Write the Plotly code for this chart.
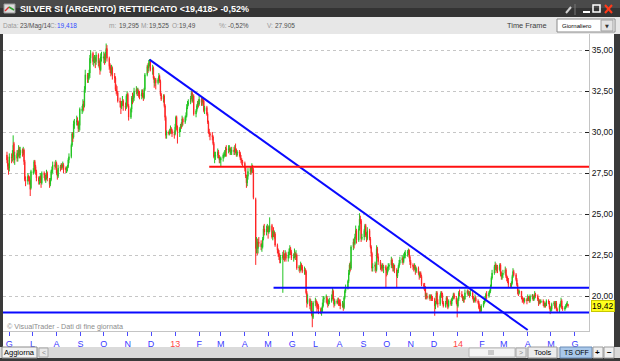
import pandas as pd
import plotly.graph_objects as go

# ---------------- data (daily OHLC) ----------------
first_day = "2012-05-29"
opens = [
    28.6, 28.3, 27.9, 27.8,
    28.5, 28.4, 28.6, 29.3, 28.3,  28.7, 28.4, 28.7, 29.0, 28.6,  28.9, 28.7, 28.9, 28.2, 27.1,  27.0, 27.3, 27.2, 27.0, 26.6,
    27.5, 27.6, 28.2, 27.9, 27.6,  27.2, 27.0, 27.1, 27.3, 26.9,  27.5, 27.4, 27.1, 27.2, 27.5,  27.1, 26.8, 27.1, 27.6, 27.7,
    28.0, 27.9, 28.1, 27.5, 27.3,  27.9, 27.8, 28.0, 27.9, 28.0,  27.8, 27.7, 27.8, 27.9, 28.3,  28.5, 29.2, 29.9, 29.7, 30.5,
    30.6, 30.7, 30.6, 30.2, 30.4,  31.3, 31.4, 31.7, 31.6, 32.6,  33.5, 33.2, 33.4, 33.6, 34.5,  34.8, 34.3, 34.4, 34.5, 34.3,
    34.7, 34.2, 34.3, 33.8, 34.5,  34.5, 34.6, 34.4, 34.7, 35.1,  34.5, 34.0, 33.9, 33.6, 33.9,  33.4, 33.3, 32.6, 32.5, 32.4,
    31.9, 31.8, 31.5, 31.8, 31.9,  31.6, 31.5, 32.2, 32.3, 31.6,  30.9, 31.4, 32.1, 32.0, 32.1,  32.5, 32.6, 32.4, 32.5, 32.3,
    32.2, 32.4, 32.3, 32.1, 32.6,  33.5, 34.0, 33.9, 34.2, 34.3,  33.8, 33.9, 33.3, 33.0, 33.2,  33.0, 33.2, 33.4, 33.1, 32.3,
    32.0, 32.2, 31.6, 30.9, 29.8,  30.0, 29.9, 30.0, 30.2, 30.1,  29.9, 29.9, 30.3, 30.9, 30.3,
    30.0, 30.2, 30.4, 30.4, 30.8,  30.6, 30.9, 31.0, 31.5, 31.7,  31.8, 32.1, 32.4, 31.9, 32.2,  31.1, 31.3, 31.6, 31.8, 31.7,
    32.0, 31.8, 32.0, 31.9, 31.3,  31.5, 31.1, 30.6, 30.0, 29.9,  29.8, 29.7, 29.3, 28.5, 28.5,  28.6, 28.8, 28.5, 28.3, 28.3,
    28.4, 28.5, 28.6, 28.7, 29.0,  28.9, 28.9, 29.0, 28.7, 28.8,  28.9, 28.8, 29.0, 28.9, 28.6,  28.8, 28.7, 28.4, 28.3, 28.2,
    28.1, 27.8, 27.3, 26.9, 27.3,  27.6, 27.8, 27.6, 27.9, 27.7,  25.9, 23.0, 23.3, 22.9, 23.3,  23.2, 23.0, 23.0, 23.5, 24.1,
    23.9, 24.1, 24.2, 23.9, 24.0,  24.3, 23.6, 23.9, 23.8, 23.8,  23.1, 22.8, 22.6, 22.4, 22.2,  22.3, 22.5, 22.4, 22.4, 22.6,
    22.3, 22.5, 22.7, 22.9, 22.7,  22.3, 22.4, 22.6, 22.4, 22.5,  21.7, 21.7, 21.6, 21.9, 21.8,  21.5, 21.6, 21.5, 20.2, 19.6,
    19.8, 19.4, 19.6, 18.9, 18.7,  19.6, 19.7, 19.6, 19.5, 19.4,  19.2, 19.0, 19.1, 19.4, 19.8,  19.9, 19.9, 19.6, 19.5, 19.6,
    19.7, 19.9, 20.3, 19.8, 19.5,  19.7, 19.6, 19.7, 19.6, 19.6,  19.4, 19.5, 19.3, 19.9, 20.3,  20.5, 20.9, 21.4, 21.9, 21.7,
    23.0, 23.3, 23.2, 23.6, 24.0,  23.4, 24.1, 24.7, 24.6, 23.5,  23.6, 24.0, 24.3, 23.7, 23.5,  24.0, 23.5, 23.0, 22.6, 21.7,
    21.8, 21.9, 21.6, 22.9, 22.4,  22.1, 21.8, 21.7, 21.9, 21.7,  21.8, 21.6, 21.4, 21.7, 21.8,  21.9, 22.2, 21.9, 21.7, 21.9,
    21.6, 21.2, 21.5, 21.8, 22.0,  22.2, 22.3, 22.1, 22.4, 22.5,  22.6, 22.7, 22.8, 22.4, 22.1,  21.9, 21.8, 21.7, 21.8, 21.5,
    21.7, 21.4, 21.2, 21.4, 21.2,  20.7, 20.6, 20.5, 20.0, 20.0,  19.9, 20.0, 19.9, 20.0, 19.9,  19.8, 19.4, 19.6, 20.2, 19.6,
    19.5, 20.0, 20.2, 20.1, 19.6,  19.4, 19.6, 19.9, 19.5, 19.4,  19.7, 19.5, 19.8, 19.9, 20.1,  19.9, 19.6, 19.4, 19.8, 20.2,
    20.1, 20.0, 19.8, 19.9, 19.8,  20.2, 20.3, 20.1, 20.2, 20.1,  20.2, 19.9, 19.7, 19.8, 19.9,  19.7, 19.6, 19.3, 19.2, 19.1,
    19.4, 19.6, 19.7, 19.9, 20.1,  20.0, 20.2, 20.3, 20.6, 21.1,  21.4, 21.8, 21.9, 21.6, 21.8,  21.6, 21.9, 21.3, 21.2, 21.3,
    21.4, 21.6, 21.2, 21.1, 20.9,  20.7, 20.6, 20.8, 21.2, 21.5,  21.3, 21.0, 20.7, 20.3, 20.2,  20.3, 19.9, 19.8, 19.8, 19.7,
    19.8, 19.8, 19.9, 19.9, 19.7,  20.0, 20.0, 19.8, 19.9, 20.1,  20.0, 19.8, 19.6, 19.7, 19.6,  19.7, 19.6, 19.4, 19.5, 19.4,
    19.7, 19.6, 19.3, 19.1, 19.2,  19.5, 19.6, 19.3, 19.6, 19.2,  19.1, 19.4, 19.5, 19.7, 19.3,  19.2, 19.3, 19.4, 19.5, 19.49,
]
highs = [
    28.8, 28.5, 28.1, 28.7,
    28.7, 28.9, 29.8, 29.4, 28.8,  28.9, 28.9, 29.2, 29.1, 29.1,  29.0, 29.1, 29.0, 28.3, 27.3,  27.5, 27.4, 27.3, 27.1, 27.7,
    27.8, 28.3, 28.3, 28.0, 27.7,  27.3, 27.3, 27.5, 27.4, 27.6,  27.6, 27.5, 27.4, 27.7, 27.6,  27.2, 27.2, 27.7, 27.9, 28.2,
    28.2, 28.3, 28.2, 27.7, 28.0,  28.0, 28.1, 28.1, 28.2, 28.1,  27.9, 27.9, 28.0, 28.4, 28.7,  29.3, 30.0, 30.0, 30.7, 30.8,
    31.0, 30.9, 30.7, 30.6, 31.5,  31.6, 32.0, 31.9, 32.8, 33.8,  33.6, 33.6, 33.8, 34.7, 35.0,  34.9, 34.6, 34.7, 34.6, 34.9,
    34.8, 34.5, 34.4, 34.8, 34.9,  34.9, 34.8, 34.9, 35.4, 35.3,  34.6, 34.2, 34.1, 34.1, 34.0,  33.6, 33.4, 32.9, 32.8, 32.5,
    32.1, 31.9, 31.9, 32.2, 32.0,  31.8, 32.3, 32.5, 32.4, 31.7,  31.5, 32.2, 32.4, 32.3, 32.7,  32.8, 32.7, 32.7, 32.6, 32.5,
    32.6, 32.6, 32.4, 32.7, 33.6,  34.1, 34.2, 34.4, 34.45, 34.4,  34.1, 34.0, 33.4, 33.3, 33.3,  33.3, 33.6, 33.5, 33.2, 32.4,
    32.3, 32.3, 31.7, 31.0, 30.1,  30.1, 30.2, 30.4, 30.3, 30.2,  30.1, 30.5, 31.0, 31.0, 30.4,
    30.3, 30.5, 30.6, 31.0, 30.9,  31.0, 31.2, 31.7, 31.9, 32.0,  32.2, 32.5, 32.5, 32.3, 32.3,  31.4, 31.7, 31.9, 32.0, 32.2,
    32.1, 32.1, 32.1, 32.0, 31.6,  31.6, 31.2, 30.7, 30.2, 30.0,  30.0, 29.8, 29.4, 28.8, 28.8,  29.0, 28.9, 28.6, 28.5, 28.5,
    28.7, 28.8, 28.9, 29.1, 29.2,  29.2, 29.2, 29.1, 29.0, 29.1,  29.1, 29.2, 29.3, 29.0, 28.9,  28.9, 28.8, 28.6, 28.4, 28.3,
    28.2, 27.9, 27.4, 27.4, 27.8,  27.9, 27.9, 28.1, 28.0, 27.8,  26.0, 23.6, 23.5, 23.5, 23.6,  23.4, 23.2, 23.6, 24.3, 24.4,
    24.3, 24.4, 24.3, 24.3, 24.8,  24.4, 24.0, 24.2, 24.0, 23.9,  23.2, 22.9, 22.8, 22.6, 22.5,  22.7, 22.8, 22.6, 22.8, 22.7,
    22.7, 22.9, 23.1, 23.0, 22.8,  22.6, 22.9, 22.7, 22.8, 22.6,  21.9, 21.8, 22.1, 22.0, 21.9,  21.8, 21.7, 21.6, 20.3, 20.1,
    19.9, 19.8, 19.7, 19.1, 19.7,  19.9, 19.8, 19.7, 19.6, 19.5,  19.3, 19.3, 19.6, 20.0, 20.0,  20.1, 20.0, 19.8, 19.8, 19.9,
    20.1, 20.5, 20.4, 19.9, 19.8,  19.8, 19.9, 19.9, 19.8, 19.8,  19.7, 19.6, 20.0, 20.4, 20.7,  21.0, 21.6, 22.0, 22.1, 23.1,
    23.5, 23.5, 23.8, 24.3, 24.1,  24.3, 25.05, 24.9, 24.7, 23.8,  24.1, 24.4, 24.4, 23.9, 24.2,  24.1, 23.6, 23.1, 22.7, 22.0,
    22.1, 22.0, 23.1, 23.0, 22.6,  22.2, 21.9, 22.0, 22.0, 21.9,  21.9, 21.7, 21.8, 22.0, 22.0,  22.4, 22.3, 22.0, 22.0, 21.9,
    21.7, 21.6, 21.9, 22.2, 22.4,  22.5, 22.4, 22.6, 22.7, 22.8,  22.8, 22.9, 22.85, 22.5, 22.2,  22.0, 21.9, 22.0, 21.9, 21.8,
    21.8, 21.5, 21.5, 21.5, 21.3,  20.8, 20.8, 20.6, 20.2, 20.2,  20.1, 20.1, 20.1, 20.1, 20.0,  19.9, 19.7, 20.3, 20.3, 19.8,
    20.1, 20.3, 20.3, 20.2, 19.7,  19.7, 20.0, 20.0, 19.6, 19.8,  19.8, 19.9, 20.0, 20.2, 20.2,  20.0, 19.7, 19.9, 20.3, 20.4,
    20.3, 20.1, 20.0, 20.0, 20.4,  20.4, 20.4, 20.3, 20.3, 20.4,  20.3, 20.0, 19.9, 20.1, 20.0,  19.8, 19.7, 19.5, 19.4, 19.5,
    19.7, 19.9, 20.0, 20.2, 20.3,  20.3, 20.4, 20.7, 21.2, 21.6,  21.9, 22.1, 22.0, 21.9, 21.9,  22.0, 22.0, 21.5, 21.4, 21.6,
    21.8, 21.7, 21.3, 21.2, 21.1,  20.8, 20.9, 21.3, 21.7, 21.6,  21.4, 21.1, 20.8, 20.4, 20.4,  20.3, 20.0, 19.9, 19.9, 19.9,
    19.9, 20.1, 20.0, 20.0, 20.1,  20.1, 20.1, 20.0, 20.3, 20.2,  20.1, 19.9, 19.8, 19.8, 19.8,  19.8, 19.7, 19.6, 19.6, 19.8,
    19.8, 19.7, 19.4, 19.3, 19.6,  19.7, 19.7, 19.7, 19.7, 19.3,  19.5, 19.6, 19.9, 19.8, 19.4,  19.4, 19.5, 19.6, 19.7, 19.525,
]
lows = [
    28.1, 27.7, 27.4, 27.6,
    28.1, 28.2, 28.5, 28.1, 28.0,  28.2, 28.2, 28.5, 28.4, 28.4,  28.5, 28.6, 28.0, 27.0, 26.7,  26.8, 27.0, 26.8, 26.1, 26.5,
    27.4, 27.5, 27.7, 27.4, 27.0,  26.8, 26.8, 26.9, 26.6, 26.8,  27.2, 27.0, 26.9, 27.1, 27.0,  26.6, 26.7, 27.0, 27.4, 27.5,
    27.7, 27.8, 27.4, 27.1, 27.2,  27.6, 27.7, 27.7, 27.8, 27.5,  27.5, 27.5, 27.6, 27.8, 28.1,  28.4, 29.1, 29.4, 29.6, 30.2,
    30.4, 30.4, 30.0, 30.0, 30.1,  31.1, 31.2, 31.3, 31.5, 32.4,  33.0, 33.0, 33.2, 33.3, 34.2,  34.1, 34.0, 34.2, 33.9, 34.1,
    34.0, 33.9, 33.5, 33.7, 34.3,  34.2, 34.1, 34.2, 34.6, 34.3,  33.8, 33.6, 33.4, 33.5, 33.2,  33.0, 32.5, 32.3, 32.2, 31.8,
    31.5, 31.1, 31.4, 31.6, 31.3,  31.3, 31.4, 32.0, 31.5, 30.7,  30.8, 31.2, 31.7, 31.8, 31.9,  32.3, 32.2, 32.2, 32.1, 32.0,
    32.0, 32.1, 31.9, 32.0, 32.5,  33.4, 33.6, 33.7, 34.0, 33.7,  33.5, 33.2, 32.7, 32.8, 32.6,  32.9, 33.1, 33.0, 32.2, 31.9,
    31.8, 31.5, 30.7, 29.6, 29.6,  29.8, 29.8, 29.9, 29.9, 29.7,  29.6, 29.8, 30.2, 30.1, 29.3,
    29.7, 30.0, 30.2, 30.3, 30.4,  30.5, 30.7, 30.9, 31.4, 31.6,  31.7, 32.0, 31.8, 31.8, 31.0,  30.9, 31.2, 31.4, 31.5, 31.6,
    31.6, 31.6, 31.7, 31.2, 31.1,  31.0, 30.5, 29.9, 29.7, 29.5,  29.5, 29.2, 28.4, 28.1, 28.3,  28.4, 28.4, 28.1, 28.1, 27.9,
    28.2, 28.4, 28.5, 28.5, 28.5,  28.7, 28.8, 28.6, 28.6, 28.6,  28.6, 28.6, 28.7, 28.5, 28.5,  28.5, 28.3, 28.1, 28.0, 27.9,
    27.6, 27.2, 26.6, 26.7, 27.1,  27.4, 27.4, 27.5, 27.5, 25.9,  21.9, 22.6, 22.5, 22.6, 23.0,  22.8, 22.7, 22.9, 23.4, 23.7,
    23.7, 23.9, 23.5, 23.8, 23.9,  23.5, 23.4, 23.6, 23.5, 23.0,  22.6, 22.4, 22.2, 22.0, 22.0,  20.2, 22.2, 22.1, 22.2, 22.1,
    22.1, 22.3, 22.5, 22.5, 22.2,  22.1, 22.3, 22.2, 22.2, 21.6,  21.5, 21.4, 21.5, 21.6, 21.4,  21.3, 21.3, 20.1, 19.3, 19.5,
    19.2, 19.1, 18.8, 18.1, 18.6,  19.4, 19.3, 19.0, 19.2, 18.9,  18.9, 18.8, 19.0, 19.3, 19.6,  19.6, 19.5, 19.3, 19.4, 19.5,
    19.6, 19.8, 19.7, 19.3, 19.4,  19.5, 19.5, 19.4, 19.4, 19.2,  19.3, 19.1, 19.2, 19.8, 20.2,  20.4, 20.8, 21.3, 21.5, 21.6,
    22.8, 22.9, 23.1, 23.5, 23.2,  23.3, 24.0, 24.4, 23.3, 23.4,  23.4, 23.8, 23.6, 23.3, 23.4,  23.4, 22.9, 22.4, 21.5, 21.5,
    21.5, 21.4, 21.5, 22.3, 21.9,  21.6, 21.5, 21.6, 21.5, 21.4,  20.5, 21.2, 21.3, 21.5, 21.6,  21.7, 21.8, 21.5, 21.5, 21.4,
    20.5, 21.1, 21.4, 21.7, 21.9,  22.0, 21.9, 22.0, 22.3, 22.3,  22.4, 22.5, 22.3, 21.9, 21.7,  21.6, 21.5, 21.6, 21.3, 21.4,
    21.3, 21.0, 21.1, 21.1, 20.6,  20.4, 20.3, 19.8, 19.8, 19.8,  19.8, 19.7, 19.8, 19.7, 19.7,  18.8, 19.2, 19.5, 19.5, 19.3,
    19.4, 19.9, 19.9, 19.5, 19.3,  19.3, 19.5, 19.3, 19.2, 19.3,  19.4, 19.4, 19.7, 19.8, 19.8,  19.5, 18.7, 19.3, 19.7, 20.0,
    19.9, 19.7, 19.6, 19.6, 19.8,  20.1, 20.0, 20.0, 19.9, 20.0,  19.8, 19.6, 19.6, 19.7, 19.6,  19.5, 19.2, 19.0, 19.0, 19.0,
    19.3, 19.5, 19.6, 19.8, 19.8,  19.9, 20.1, 20.2, 20.5, 21.0,  21.3, 21.6, 21.4, 21.5, 21.4,  21.5, 21.2, 21.0, 21.0, 21.1,
    21.3, 21.1, 20.9, 20.8, 20.5,  20.5, 20.5, 20.7, 21.1, 21.2,  20.9, 20.6, 20.1, 20.0, 20.1,  19.8, 19.6, 19.6, 19.5, 19.6,
    19.5, 19.7, 19.7, 19.6, 19.6,  19.8, 19.7, 19.7, 19.8, 19.9,  19.7, 19.4, 19.5, 19.5, 19.6,  19.4, 19.3, 19.3, 19.3, 19.4,
    19.5, 19.2, 18.9, 19.0, 19.1,  19.4, 19.2, 19.3, 19.1, 19.0,  19.0, 19.3, 19.4, 19.2, 19.1,  19.1, 19.2, 19.3, 19.4, 19.295,
]
closes = [
    28.3, 27.9, 27.7, 28.5,
    28.4, 28.6, 29.2, 28.3, 28.6,  28.4, 28.7, 29.0, 28.6, 28.9,  28.7, 28.9, 28.2, 27.1, 27.0,  27.3, 27.2, 27.0, 26.5, 27.6,
    27.6, 28.2, 27.9, 27.6, 27.2,  27.0, 27.1, 27.3, 26.9, 27.5,  27.4, 27.1, 27.2, 27.5, 27.2,  26.8, 27.1, 27.6, 27.7, 28.0,
    27.9, 28.1, 27.5, 27.3, 27.8,  27.8, 28.0, 27.9, 28.0, 27.7,  27.7, 27.8, 27.9, 28.3, 28.5,  29.2, 29.9, 29.7, 30.5, 30.6,
    30.7, 30.6, 30.2, 30.4, 31.4,  31.4, 31.7, 31.6, 32.6, 33.5,  33.2, 33.4, 33.6, 34.5, 34.8,  34.3, 34.4, 34.5, 34.3, 34.7,
    34.2, 34.3, 33.8, 34.6, 34.6,  34.6, 34.4, 34.7, 35.1, 34.5,  34.0, 33.9, 33.6, 33.9, 33.4,  33.3, 32.6, 32.5, 32.4, 31.9,
    31.8, 31.5, 31.8, 31.9, 31.6,  31.5, 32.2, 32.3, 31.6, 30.9,  31.4, 32.1, 32.0, 32.1, 32.5,  32.6, 32.4, 32.5, 32.3, 32.2,
    32.4, 32.3, 32.1, 32.6, 33.5,  34.0, 33.9, 34.2, 34.3, 33.8,  33.9, 33.3, 33.0, 33.2, 33.0,  33.2, 33.4, 33.1, 32.3, 32.0,
    32.2, 31.6, 30.9, 29.8, 30.0,  29.9, 30.0, 30.2, 30.1, 29.9,  29.8, 30.3, 30.9, 30.3, 30.0,
    30.2, 30.4, 30.3, 30.8, 30.6,  30.9, 31.0, 31.5, 31.7, 31.8,  32.1, 32.4, 31.9, 32.2, 31.1,  31.3, 31.6, 31.8, 31.7, 32.0,
    31.8, 32.0, 31.9, 31.3, 31.5,  31.1, 30.6, 30.0, 29.9, 29.8,  29.7, 29.3, 28.5, 28.6, 28.6,  28.8, 28.5, 28.3, 28.4, 28.4,
    28.6, 28.6, 28.7, 28.9, 28.9,  29.0, 29.0, 28.8, 28.8, 28.9,  28.8, 29.0, 28.9, 28.6, 28.8,  28.7, 28.4, 28.3, 28.2, 28.1,
    27.8, 27.3, 26.9, 27.3, 27.6,  27.8, 27.6, 27.9, 27.7, 26.0,  22.9, 23.3, 22.9, 23.3, 23.2,  23.0, 23.1, 23.5, 24.1, 23.9,
    24.1, 24.2, 23.9, 24.0, 24.3,  23.6, 23.9, 23.8, 23.9, 23.1,  22.8, 22.6, 22.4, 22.2, 22.4,  22.5, 22.4, 22.3, 22.6, 22.3,
    22.5, 22.7, 22.9, 22.7, 22.3,  22.4, 22.6, 22.4, 22.5, 21.7,  21.8, 21.6, 21.9, 21.8, 21.5,  21.6, 21.5, 20.2, 19.6, 19.8,
    19.4, 19.6, 18.9, 18.7, 19.6,  19.7, 19.6, 19.5, 19.4, 19.2,  19.0, 19.1, 19.4, 19.8, 19.9,  20.0, 19.6, 19.5, 19.6, 19.7,
    19.9, 20.3, 19.8, 19.5, 19.7,  19.6, 19.7, 19.6, 19.5, 19.4,  19.5, 19.3, 19.9, 20.3, 20.5,  20.9, 21.4, 21.9, 21.7, 23.0,
    23.3, 23.2, 23.6, 24.0, 23.4,  24.1, 24.7, 24.6, 23.5, 23.6,  24.0, 24.3, 23.7, 23.5, 24.0,  23.5, 23.0, 22.6, 21.7, 21.8,
    21.9, 21.6, 22.9, 22.4, 22.1,  21.8, 21.7, 21.9, 21.7, 21.8,  21.6, 21.4, 21.7, 21.8, 21.9,  22.2, 21.9, 21.7, 21.9, 21.6,
    21.2, 21.5, 21.8, 22.0, 22.2,  22.3, 22.1, 22.4, 22.5, 22.6,  22.7, 22.8, 22.4, 22.1, 21.9,  21.8, 21.7, 21.8, 21.5, 21.7,
    21.4, 21.2, 21.4, 21.2, 20.7,  20.6, 20.5, 20.0, 20.1, 19.9,  20.0, 19.9, 20.0, 19.9, 19.8,  19.4, 19.6, 20.2, 19.6, 19.5,
    20.0, 20.2, 20.1, 19.6, 19.4,  19.6, 19.9, 19.5, 19.4, 19.7,  19.5, 19.8, 19.9, 20.1, 19.9,  19.6, 19.4, 19.8, 20.2, 20.1,
    20.0, 19.8, 19.9, 19.8, 20.2,  20.3, 20.1, 20.2, 20.1, 20.2,  19.9, 19.7, 19.8, 19.9, 19.7,  19.6, 19.3, 19.2, 19.1, 19.4,
    19.6, 19.7, 19.9, 20.1, 20.0,  20.2, 20.3, 20.6, 21.1, 21.4,  21.8, 21.9, 21.6, 21.8, 21.6,  21.9, 21.3, 21.2, 21.3, 21.4,
    21.6, 21.2, 21.1, 20.9, 20.7,  20.6, 20.8, 21.2, 21.5, 21.3,  21.0, 20.7, 20.3, 20.2, 20.3,  19.9, 19.8, 19.7, 19.7, 19.8,
    19.7, 19.9, 19.8, 19.7, 20.0,  20.1, 19.8, 19.9, 20.1, 20.0,  19.8, 19.6, 19.7, 19.6, 19.7,  19.6, 19.4, 19.5, 19.4, 19.7,
    19.6, 19.3, 19.1, 19.2, 19.5,  19.6, 19.3, 19.6, 19.2, 19.1,  19.4, 19.5, 19.7, 19.3, 19.2,  19.3, 19.4, 19.5, 19.52, 19.418,
]

# drawn study lines (dates, price levels)
trend_dates, trend_values = ["2012-11-29", "2014-04-01"], [34.42, 17.93]
red_dates, red_values = ["2013-02-14", "2014-07-31"], [27.88, 27.88]
upper_dates, upper_values = ["2013-05-08", "2014-07-31"], [20.50, 20.50]
lower_dates, lower_values = ["2012-04-01", "2014-07-31"], [19.00, 19.00]

month_labels = ["G", "L", "A", "S", "O", "N", "D", "13", "F", "M", "A", "M",
                "G", "L", "A", "S", "O", "N", "D", "14", "F", "M", "A", "M", "G"]
year_labels = {"13", "14"}
y_ticks = [20.0, 22.5, 25.0, 27.5, 30.0, 32.5, 35.0]
last_price_text = "19,42"
last_price = 19.418

title_text = "SILVER SI (ARGENTO) RETTIFICATO &lt;19,418&gt; -0,52%"
info_items = [("Data:", 1, "#9a9a9a"), ("23/Mag/14", 18, "#505050"), ("C:", 48, "#9a9a9a"),
              ("19,418", 55, "#2f4dff"), ("m:", 107, "#9a9a9a"), ("19,295", 117, "#505050"),
              ("M:", 139, "#9a9a9a"), ("19,525", 147, "#505050"), ("O:", 170, "#9a9a9a"),
              ("19,49", 177, "#505050"), ("%:", 217, "#9a9a9a"), ("-0,52%", 226, "#505050"),
              ("V:", 265, "#9a9a9a"), ("27.905", 273, "#505050")]

assert len(opens) == len(highs) == len(lows) == len(closes), (len(opens), len(highs), len(lows), len(closes))

# ---------------- geometry ----------------
W, H = 620, 361
ML, MR, MT, MB = 3, 31, 34, 30
PW, PH = W - ML - MR, H - MT - MB
FONT = "Liberation Sans, Arial, sans-serif"


def px(x):
    return (x - ML) / PW


def py(y):
    return 1 - (y - MT) / PH


dates = pd.bdate_range(first_day, periods=len(closes))

fig = go.Figure()
fig.add_trace(go.Candlestick(
    x=dates, open=opens, high=highs, low=lows, close=closes,
    increasing=dict(line=dict(color="#22c422", width=1), fillcolor="#22c422"),
    decreasing=dict(line=dict(color="#ff2424", width=1), fillcolor="#ff2424"),
    whiskerwidth=0, showlegend=False, hoverinfo="skip"))

for dx, vy, col in [(trend_dates, trend_values, "#0a0aff"), (red_dates, red_values, "#ff1010"),
                    (upper_dates, upper_values, "#0a0aff"), (lower_dates, lower_values, "#0a0aff")]:
    fig.add_trace(go.Scatter(x=dx, y=vy, mode="lines", line=dict(color=col, width=2),
                             showlegend=False, hoverinfo="skip"))

month_starts = pd.date_range("2012-06-01", periods=len(month_labels), freq="MS")
tick_text = [f'<span style="color:#ff4646">{t}</span>' if t in year_labels else t for t in month_labels]

shapes = []


def rect(x0, y0, x1, y1, fill, line=None, lw=1, layer="below"):
    shapes.append(dict(type="rect", xref="paper", yref="paper", x0=px(x0), x1=px(x1), y0=py(y1), y1=py(y0),
                       fillcolor=fill, line=dict(color=line or fill, width=lw if line else 0), layer=layer))


def seg(x0, y0, x1, y1, color, lw=1, layer="above"):
    shapes.append(dict(type="line", xref="paper", yref="paper", x0=px(x0), x1=px(x1), y0=py(y0), y1=py(y1),
                       line=dict(color=color, width=lw), layer=layer))


# window chrome
rect(0, 0, 620, 8, "#4a4a4a")
rect(0, 8, 620, 17, "#343434")
rect(0, 17, 620, 34, "#e7e7e7")
rect(3, 34, 614, 347, "#ffffff")
rect(0, 347, 620, 358, "#dadada")
# title icon
rect(4, 4, 15, 13, "#dcdcdc", "#9a9a9a", layer="above")
seg(5, 11, 9, 7, "#e03030", 1.5)
seg(9, 7, 14, 10, "#30a030", 1.5)
# window buttons
seg(566, 13, 571, 7, "#d0d0d0", 2)
seg(575, 4, 575, 15, "#777777", 1)
seg(583, 12, 590, 12, "#ffffff", 2)
rect(593, 5, 600, 12, "rgba(0,0,0,0)", "#ffffff", 1.5, layer="above")
seg(605, 5, 612, 13, "#ff3a1a", 2)
seg(605, 13, 612, 5, "#ff3a1a", 2)
# time-frame dropdown
rect(557, 19, 615, 32, "#ffffff", "#8a8a8a", layer="above")
rect(601, 20, 613, 31, "#e4e4e4", "#a0a0a0", layer="above")
# bottom bar buttons
rect(2, 347, 37, 358, "#f2f2f2", "#8c8c8c", layer="above")
rect(39, 348, 48, 357, "#e9e9e9", "#a8a8a8", layer="above")
rect(469, 348, 515, 357, "#f3f3f3", "#b8b8b8", layer="above")
for gx in (489, 491, 493):
    seg(gx, 350, gx, 355, "#a0a0a0", 1)
rect(516, 348, 526, 357, "#e9e9e9", "#a8a8a8", layer="above")
rect(528, 347, 557, 358, "#ececec", "#9c9c9c", layer="above")
rect(560, 347, 592, 358, "#a9c8ea", "#6a8cb6", layer="above")
rect(593, 347, 603, 358, "#f0f0f0", "#9c9c9c", layer="above")
rect(604, 347, 614, 358, "#f0f0f0", "#9c9c9c", layer="above")

annotations = []


def note(text, x, y, size=8, color="#000000", xanchor="left", family=FONT, **kw):
    annotations.append(dict(text=text, x=px(x), y=py(y), xref="paper", yref="paper", xanchor=xanchor,
                            yanchor="middle", showarrow=False, font=dict(size=size, color=color, family=family),
                            **kw))


note(f"<b>{title_text}</b>", 18, 8.5, size=9, color="#ffffff")
for txt, x, col in info_items:
    note(txt, x, 25.5, size=6.5, color=col)
note("Time Frame", 505, 25.5, size=7.4, color="#3c3c3c")
note("Giornaliero", 560, 25.5, size=6, color="#000000")
note("▼", 607, 25.5, size=5, color="#333333", xanchor="center", family="DejaVu Sans")
note("© VisualTrader - Dati di fine giornata", 5, 326, size=7.2, color="#8c8c8c")
note("Aggiorna", 19.5, 352.5, size=7.5, color="#000000", xanchor="center")
note("<", 43.5, 352.5, size=7, color="#8a8a8a", xanchor="center")
note(">", 521, 352.5, size=7, color="#8a8a8a", xanchor="center")
note("Tools", 542.5, 352.5, size=7.4, color="#000000", xanchor="center")
note("TS OFF", 576, 352.5, size=7, color="#000000", xanchor="center")
note("<b>+</b>", 598, 352.5, size=8, color="#000000", xanchor="center")
note("<b>−</b>", 609, 352.5, size=8, color="#000000", xanchor="center")
annotations.append(dict(text=last_price_text, x=px(590.5), y=last_price, xref="paper", yref="y",
                        xanchor="left", yanchor="middle", showarrow=False, bgcolor="#ffff1e",
                        bordercolor="#c8c800", borderwidth=1, borderpad=0,
                        font=dict(size=8.5, color="#000000", family=FONT)))

fig.update_layout(
    width=W, height=H, margin=dict(l=ML, r=MR, t=MT, b=MB, pad=0),
    paper_bgcolor="#3a3a3a", plot_bgcolor="#ffffff", separators=",.",
    showlegend=False, shapes=shapes, annotations=annotations,
    xaxis=dict(type="date", range=["2012-05-23 21:00", "2014-06-19 02:00"], rangeslider=dict(visible=False),
               tickvals=month_starts, ticktext=tick_text, ticks="outside", ticklen=4, tickwidth=1,
               tickcolor="#4a4aff", tickfont=dict(size=9, color="#3a3aff", family=FONT),
               showgrid=False, zeroline=False, showline=True, linecolor="#c4c4c4", linewidth=1, fixedrange=True),
    yaxis=dict(side="right", range=[17.87, 35.98], tickvals=y_ticks, tickformat=".2f",
               ticks="inside", ticklen=4, tickwidth=1, tickcolor="#222222",
               tickfont=dict(size=8.5, color="#111111", family=FONT),
               showgrid=True, gridcolor="#c6c6c6", gridwidth=1, griddash="dot",
               zeroline=False, showline=True, linecolor="#c4c4c4", linewidth=1, fixedrange=True),
)

# the page's default 8px body margin would shift the figure; remove it
fig.write_html("out.html", config={"staticPlot": True},
               post_script="document.body.style.margin='0';document.body.style.background='#3a3a3a';")
